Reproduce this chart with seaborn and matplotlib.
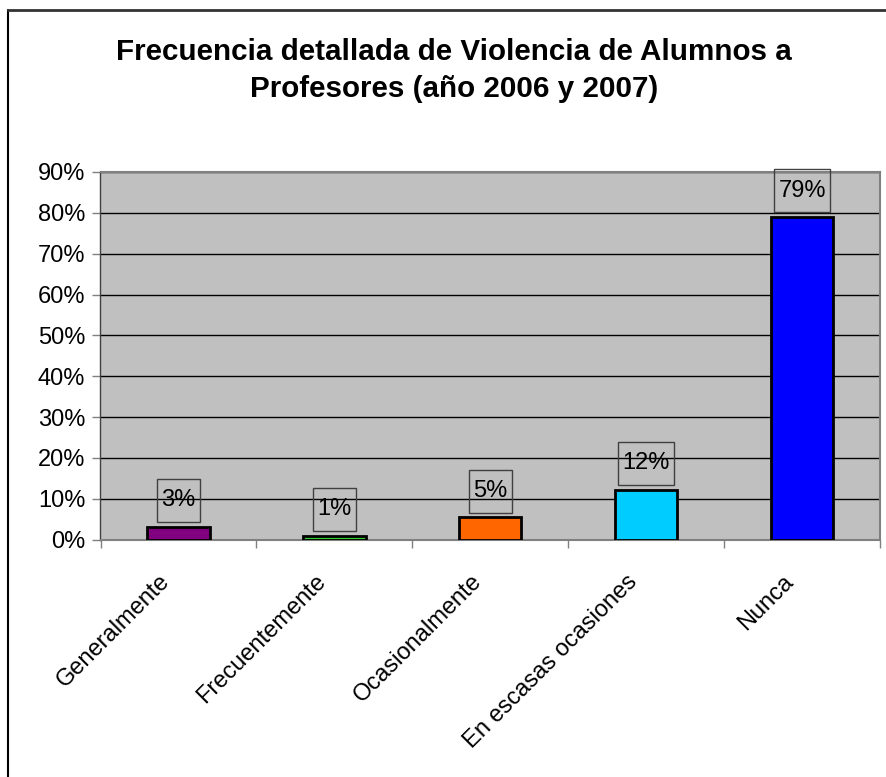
import seaborn as sns
import matplotlib.pyplot as plt
from matplotlib.lines import Line2D
from matplotlib.patches import Rectangle
from matplotlib.transforms import ScaledTranslation
from matplotlib.ticker import FixedLocator, PercentFormatter

# data
categorias = ["Generalmente", "Frecuentemente", "Ocasionalmente", "En escasas ocasiones", "Nunca"]
porcentajes = [3.1, 0.9, 5.4, 12.2, 78.9]
etiquetas = ["3%", "1%", "5%", "12%", "79%"]
colores = ["#800080", "#33CC33", "#FF6600", "#00CCFF", "#0000FF"]

sns.set_theme(style="white")
plt.rcParams["font.family"] = ["Liberation Sans", "DejaVu Sans"]
plt.rcParams["text.color"] = "black"
plt.rcParams["xtick.color"] = "black"
plt.rcParams["ytick.color"] = "black"

fig = plt.figure(figsize=(8.87, 7.77), dpi=100)
ax = fig.add_axes([100.5 / 887, 1 - 539.5 / 777, 779.5 / 887, 367.5 / 777])

sns.barplot(x=categorias, y=porcentajes, hue=categorias, palette=colores, saturation=1,
            legend=False, width=0.4, edgecolor="black", linewidth=2, ax=ax, zorder=3)

ax.set_facecolor("#C0C0C0")
ax.set_ylim(0, 90)
ax.set_xlim(-0.5, 4.5)
ax.set_yticks(range(0, 91, 10))
ax.yaxis.set_major_formatter(PercentFormatter(decimals=0))
ax.yaxis.grid(True, color="black", linewidth=1)
ax.set_axisbelow(True)

# ticks between categories, labels rotated
ax.set_xticks(range(len(categorias)))
ax.set_xticklabels(categorias, rotation=45, ha="right", va="center",
                   rotation_mode="anchor", fontsize=17)
ax.tick_params(axis="x", which="major", length=0, pad=28)
ax.xaxis.set_minor_locator(FixedLocator([i + 0.5 for i in range(-1, 5)]))
ax.tick_params(axis="x", which="minor", bottom=True, length=6, width=1, color="#808080")
ax.tick_params(axis="y", left=True, length=6, width=1, color="#808080", labelsize=17, pad=5)
for lbl in ax.get_xticklabels():
    lbl.set_transform(lbl.get_transform() + ScaledTranslation(-0.12, 0, fig.dpi_scale_trans))

for lado in ["top", "right", "bottom"]:
    ax.spines[lado].set_color("#808080")
    ax.spines[lado].set_linewidth(1.5)
ax.spines["left"].set_color("#404040")
ax.spines["left"].set_linewidth(1)

textos = []
for i, (v, t) in enumerate(zip(porcentajes, etiquetas)):
    textos.append(ax.annotate(t, (i, v), xytext=(0, 19), textcoords="offset points",
                              ha="center", va="center", fontsize=17, zorder=4))

fig.text(0.512, 1 - 60 / 777, "Frecuencia detallada de Violencia de Alumnos a",
         ha="center", va="baseline", fontsize=21.3, fontweight="bold")
fig.text(0.512, 1 - 97 / 777, "Profesores (año 2006 y 2007)",
         ha="center", va="baseline", fontsize=21.3, fontweight="bold")

# cajas de las etiquetas
fig.canvas.draw()
r = fig.canvas.get_renderer()
for t in textos:
    bb = t.get_window_extent(r)
    cy = (bb.y0 + bb.y1) / 2
    x0, x1 = bb.x0 - 4.5, bb.x1 + 4.5
    y0, y1 = cy - 21.5, cy + 21.5
    (fx0, fy0), (fx1, fy1) = fig.transFigure.inverted().transform([(x0, y0), (x1, y1)])
    fig.add_artist(Rectangle((fx0, fy0), fx1 - fx0, fy1 - fy0, fill=False,
                             edgecolor="#404040", linewidth=1, zorder=5))

# borde exterior del grafico
fig.add_artist(Line2D([8.5 / 887, 8.5 / 887], [0, 1 - 10 / 777], color="black", linewidth=1.5))
fig.add_artist(Line2D([8.5 / 887, 1], [1 - 10 / 777, 1 - 10 / 777], color="#333333", linewidth=2))

fig.savefig("out.png", dpi=100)
